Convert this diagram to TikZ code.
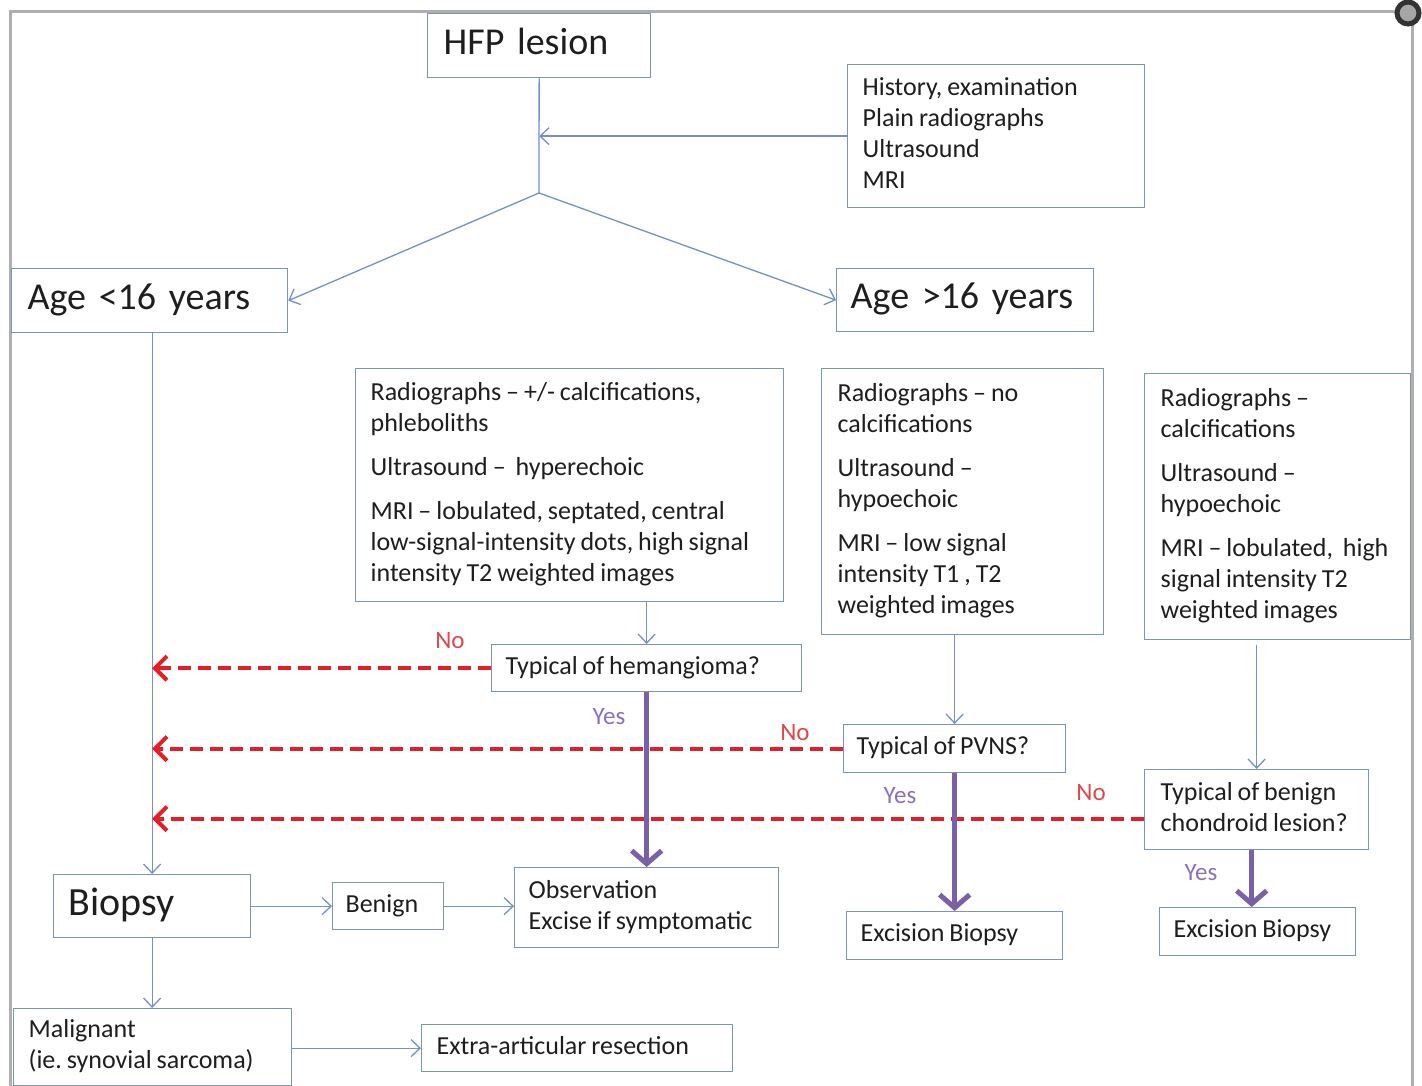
\documentclass[tikz,border=0pt]{standalone}
\usepackage{fontspec}
\setmainfont{Carlito}
\usetikzlibrary{arrows.meta,calc}
\definecolor{boxc}{RGB}{125,148,185}
\definecolor{linec}{RGB}{115,145,200}
\definecolor{redd}{RGB}{232,28,36}
\definecolor{purp}{RGB}{122,96,168}
\definecolor{yesc}{RGB}{140,112,192}
\definecolor{noc}{RGB}{222,72,72}
\definecolor{txt}{RGB}{30,30,30}
\definecolor{framec}{RGB}{175,175,175}
\frenchspacing
\newcommand\tl[1]{{\spaceskip=0.19em\relax\begin{tabular}{@{}l@{}}#1\end{tabular}}}
\newcommand\tlb[1]{\begin{tabular}{@{}l@{}}#1\end{tabular}}
\begin{document}
\begin{tikzpicture}[x=1pt,y=-1pt,
  box/.style={draw=boxc,line width=1.3pt,fill=white,anchor=north west,text=txt,align=left,
    font=\fontsize{26}{31}\selectfont},
  big/.style={font=\fontsize{38}{44}\selectfont},
  thin/.style={draw=linec,line width=1.3pt,-{Straight Barb[length=9pt,width=17pt,line width=1.3pt]}},
  plain/.style={draw=linec,line width=1.3pt},
  nodash/.style={draw=redd,line width=4pt,dash pattern=on 13pt off 7pt,
    -{Straight Barb[length=12pt,width=24pt,line width=4pt]}},
  yesarr/.style={draw=purp,line width=5pt,-{Straight Barb[length=13pt,width=30pt,line width=5pt]}},
  nolab/.style={text=noc,font=\fontsize{25}{28}\selectfont,inner sep=0pt},
  yeslab/.style={text=yesc,font=\fontsize{25}{28}\selectfont,inner sep=0pt}]
\useasboundingbox (0,0) rectangle (1422,1086);
\fill[white] (0,0) rectangle (1422,1086);
% frame
\draw[framec,line width=3pt] (10,1086) -- (10,12) -- (1397,12);
\draw[framec,line width=3pt] (1412,24) -- (1412,1086);
\draw[black!80,line width=5pt,fill=black!35] (1408,13) circle (11);

% boxes
\node[box,big,minimum width=223pt,minimum height=64pt,text width=191pt,inner xsep=16pt] (hfp) at (427,13) {\tlb{HFP lesion}};
\node[box,minimum width=297pt,minimum height=143pt,text width=267pt,inner xsep=15pt] (hist) at (847,64)
  {\tl{History, examination\\ Plain radiographs\\ Ultrasound\\ MRI}};
\node[box,big,minimum width=276pt,minimum height=64pt,text width=244pt,inner xsep=16pt] (age1) at (11,268) {\tlb{Age <16 years}};
\node[box,big,minimum width=257pt,minimum height=63pt,text width=229pt,inner xsep=14pt] (age2) at (836,268) {\tlb{Age >16 years}};
\node[box,minimum width=428pt,minimum height=233pt,text width=398pt,inner xsep=15pt] (b1) at (355,368)
  {\tl{Radiographs -- +/- calcifications,\\ phleboliths\\[13pt] Ultrasound --\ \ hyperechoic\\[13pt] MRI -- lobulated, septated, central\\ low-signal-intensity dots, high signal\\ intensity T2 weighted images}};
\node[box,minimum width=282pt,minimum height=266pt,text width=250pt,inner xsep=16pt] (b2) at (821,368)
  {\tl{Radiographs -- no\\ calcifications\\[13pt] Ultrasound --\\ hypoechoic\\[13pt] MRI -- low signal\\ intensity T1 , T2\\ weighted images}};
\node[box,minimum width=266pt,minimum height=266pt,text width=234pt,inner xsep=16pt] (b3) at (1144,373)
  {\tl{Radiographs --\\ calcifications\\[13pt] Ultrasound --\\ hypoechoic\\[13pt] MRI -- lobulated,\ \ high\\ signal intensity T2\\ weighted images}};
\node[box,minimum width=310pt,minimum height=47pt,text width=282pt,inner xsep=14pt] (hem) at (491,644) {\tl{Typical of hemangioma?}};
\node[box,minimum width=222pt,minimum height=48pt,text width=196pt,inner xsep=13pt] (pvns) at (843,724) {\tl{Typical of PVNS?}};
\node[box,minimum width=224pt,minimum height=80pt,text width=192pt,inner xsep=16pt] (chond) at (1144,769) {\tl{Typical of benign\\ chondroid lesion?}};
\node[box,minimum width=216pt,minimum height=48pt,text width=188pt,inner xsep=14pt] (exc1) at (846,911) {\tl{Excision Biopsy}};
\node[box,minimum width=196pt,minimum height=48pt,text width=168pt,inner xsep=14pt] (exc2) at (1159,907) {\tl{Excision Biopsy}};
\node[box,minimum width=264pt,minimum height=80pt,text width=236pt,inner xsep=14pt] (obs) at (514,867) {\tl{Observation\\ Excise if symptomatic}};
\node[box,font=\fontsize{40}{46}\selectfont,minimum width=197pt,minimum height=63pt,text width=167pt,inner xsep=15pt] (biopsy) at (53,874) {\tlb{Biopsy}};
\node[box,minimum width=111pt,minimum height=47pt,text width=85pt,inner xsep=13pt] (benign) at (332,882) {\tl{Benign}};
\node[box,minimum width=278pt,minimum height=77pt,text width=248pt,inner xsep=15pt] (malig) at (13,1008) {\tl{Malignant\\ (ie. synovial sarcoma)}};
\node[box,minimum width=311pt,minimum height=47pt,text width=281pt,inner xsep=15pt] (extra) at (421,1024) {\tl{Extra-articular resection}};

% connectors
\coordinate (j) at (539,193);
\draw[plain] (hfp.south) -- (j);
\draw[thin] (hist.west) -- (hfp.south |- hist.west);
\draw[thin] (j) -- (age1.east);
\draw[thin] (j) -- (age2.west);
\draw[thin] (biopsy.north |- age1.south) -- (biopsy.north);
\draw[thin] (hem.north |- b1.south) -- (hem.north);
\draw[thin] (pvns.north |- b2.south) -- (pvns.north);
\draw[thin] ($(chond.north |- b3.south)+(0,5)$) -- (chond.north);
\draw[thin] (biopsy.east) -- (benign.west);
\draw[thin] (benign.east) -- (benign.east -| obs.west);
\draw[thin] (biopsy.south) -- (malig.north -| biopsy.south);
\draw[thin] (malig.east |- extra.west) -- (extra.west);

\draw[nodash] (hem.west) -- (hem.west -| biopsy.north);
\draw[nodash] (pvns.west) -- (pvns.west -| biopsy.north);
\draw[nodash] ($(chond.west)+(0,9)$) -- ($(chond.west -| biopsy.north)+(0,9)$);

\draw[yesarr] (hem.south) -- (obs.north);
\draw[yesarr] (pvns.south) -- (exc1.north -| pvns.south);
\draw[yesarr] ($(chond.south)+(-5,0)$) -- ($(exc2.north)+(-6,0)$);

\node[nolab] (no1) at (450,641) {No};
\node[nolab] (no2) at (795,733) {No};
\node[nolab] (no3) at (1091,793) {No};
\node[yeslab] (yes1) at (609,717) {Yes};
\node[yeslab] (yes2) at (900,796) {Yes};
\node[yeslab] (yes3) at (1201,873) {Yes};
\end{tikzpicture}
\end{document}
